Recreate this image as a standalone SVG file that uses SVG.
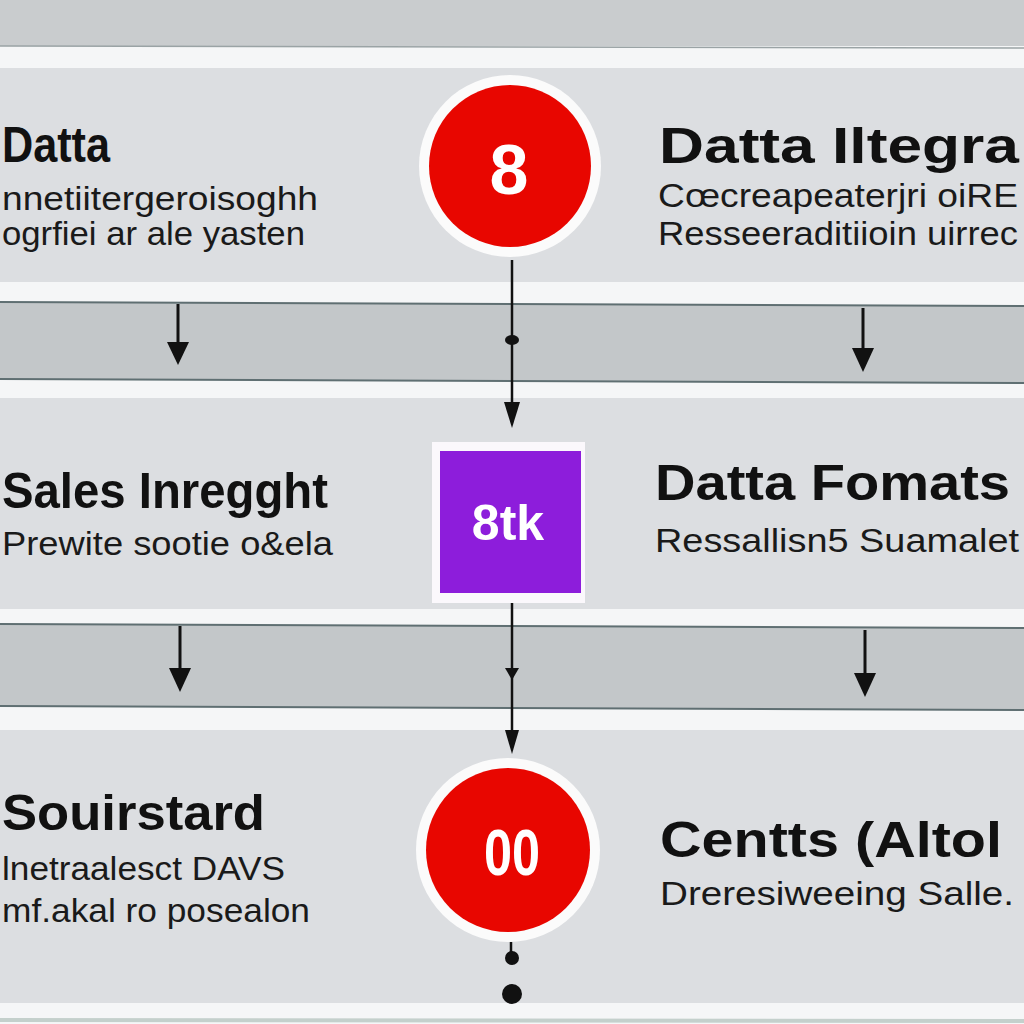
<svg xmlns="http://www.w3.org/2000/svg" width="1024" height="1024" viewBox="0 0 1024 1024">
<defs>
<style>
.panel{fill:#dcdee1}
.band{fill:#f5f6f7}
.strip{fill:#c3c7c9}
.sline{stroke:#5f6f72;stroke-width:2;fill:none}
.conn{stroke:#111;stroke-width:3;fill:none}
.thin{stroke:#111;stroke-width:2.5;fill:none}
.head{fill:#111}
.ttl{font-family:"Liberation Sans",Arial,sans-serif;font-weight:bold;font-size:50px;fill:#111}
.sub{font-family:"Liberation Sans",Arial,sans-serif;font-size:34px;fill:#1a1a1a}
.ring{fill:#fbfbfb}
.red{fill:#e80600}
.num{font-family:"Liberation Sans",Arial,sans-serif;font-weight:bold;fill:#fff;text-anchor:middle}
</style>
</defs>

<!-- background -->
<rect x="0" y="0" width="1024" height="1024" fill="#f5f6f7"/>
<rect x="0" y="0" width="1024" height="46" fill="#c9ccce"/>
<line x1="0" y1="46" x2="1024" y2="48" stroke="#9aa3a5" stroke-width="1.5"/>

<!-- panels -->
<rect class="panel" x="0" y="68" width="1024" height="214"/>
<rect class="panel" x="0" y="398" width="1024" height="211"/>
<rect class="panel" x="0" y="730" width="1024" height="273"/>
<line x1="0" y1="1020" x2="1024" y2="1021" stroke="#c4d0cc" stroke-width="4"/>

<!-- strips -->
<polygon class="strip" points="0,302 1024,306 1024,383 0,379"/>
<line class="sline" x1="0" y1="302" x2="1024" y2="306"/>
<line class="sline" x1="0" y1="379" x2="1024" y2="383"/>
<polygon class="strip" points="0,624 1024,628 1024,710 0,706"/>
<line class="sline" x1="0" y1="624" x2="1024" y2="628"/>
<line class="sline" x1="0" y1="706" x2="1024" y2="710"/>

<!-- connectors -->
<g id="connectors">
  <line class="conn" x1="178" y1="304" x2="178" y2="345"/>
  <polygon class="head" points="167,342 189,342 178,365"/>
  <line class="conn" x1="863" y1="308" x2="863" y2="350"/>
  <polygon class="head" points="852,348 874,348 863,372"/>
  <line class="conn" x1="180" y1="626" x2="180" y2="670"/>
  <polygon class="head" points="169,668 191,668 180,692"/>
  <line class="conn" x1="865" y1="630" x2="865" y2="675"/>
  <polygon class="head" points="854,673 876,673 865,697"/>

  <line class="thin" x1="512" y1="260" x2="512" y2="415"/>
  <ellipse class="head" cx="512" cy="340" rx="7" ry="5"/>
  <polygon class="head" points="504,402 520,402 512,428"/>
  <line class="thin" x1="512" y1="603" x2="512" y2="745"/>
  <polygon class="head" points="505,668 519,668 512,680"/>
  <polygon class="head" points="505,730 519,730 512,754"/>
  <line class="thin" x1="511" y1="942" x2="511" y2="952"/>
  <circle class="head" cx="512" cy="958" r="7"/>
  <circle class="head" cx="512" cy="994" r="10"/>
</g>

<!-- center nodes -->
<g id="node-8">
  <circle class="ring" cx="510" cy="166" r="91"/>
  <circle class="red" cx="510" cy="166" r="81"/>
  <text class="num" x="509" y="194" font-size="70">8</text>
</g>
<g id="node-8tk">
  <rect x="432" y="442" width="153" height="161" fill="#fbf8fc"/>
  <rect x="440" y="451" width="141" height="142" fill="#8d1ddb"/>
  <text class="num" x="508" y="540" font-size="50">8tk</text>
</g>
<g id="node-00">
  <circle class="ring" cx="508" cy="850" r="92"/>
  <circle class="red" cx="508" cy="850" r="82"/>
  <text class="num" x="512" y="875" font-size="64" textLength="56" lengthAdjust="spacingAndGlyphs">00</text>
</g>

<!-- text nodes -->
<g id="node-datta">
  <text class="ttl" x="2" y="162" textLength="108" lengthAdjust="spacingAndGlyphs">Datta</text>
  <text class="sub" x="2" y="210" textLength="316" lengthAdjust="spacingAndGlyphs">nnetiitergeroisoghh</text>
  <text class="sub" x="2" y="245" textLength="303" lengthAdjust="spacingAndGlyphs">ogrfiei ar ale yasten</text>
</g>
<g id="node-datta-integra">
  <text class="ttl" x="659" y="163" textLength="360" lengthAdjust="spacingAndGlyphs">Datta Iltegra</text>
  <text class="sub" x="658" y="207" textLength="360" lengthAdjust="spacingAndGlyphs">Cœcreapeaterjri oiRE</text>
  <text class="sub" x="658" y="245" textLength="360" lengthAdjust="spacingAndGlyphs">Resseeraditiioin uirrec</text>
</g>
<g id="node-sales">
  <text class="ttl" x="2" y="508" textLength="326" lengthAdjust="spacingAndGlyphs">Sales Inregght</text>
  <text class="sub" x="2" y="555" textLength="331" lengthAdjust="spacingAndGlyphs">Prewite sootie o&amp;ela</text>
</g>
<g id="node-formats">
  <text class="ttl" x="655" y="500" textLength="355" lengthAdjust="spacingAndGlyphs">Datta Fomats</text>
  <text class="sub" x="655" y="552" textLength="364" lengthAdjust="spacingAndGlyphs">Ressallisn5 Suamalet</text>
</g>
<g id="node-souirstard">
  <text class="ttl" x="2" y="830" textLength="263" lengthAdjust="spacingAndGlyphs">Souirstard</text>
  <text class="sub" x="2" y="880" textLength="283" lengthAdjust="spacingAndGlyphs">lnetraalesct DAVS</text>
  <text class="sub" x="2" y="922" textLength="308" lengthAdjust="spacingAndGlyphs">mf.akal ro posealon</text>
</g>
<g id="node-centts">
  <text class="ttl" x="660" y="857" textLength="342" lengthAdjust="spacingAndGlyphs">Centts (Altol</text>
  <text class="sub" x="660" y="905" textLength="354" lengthAdjust="spacingAndGlyphs">Dreresiweeing Salle.</text>
</g>
</svg>
